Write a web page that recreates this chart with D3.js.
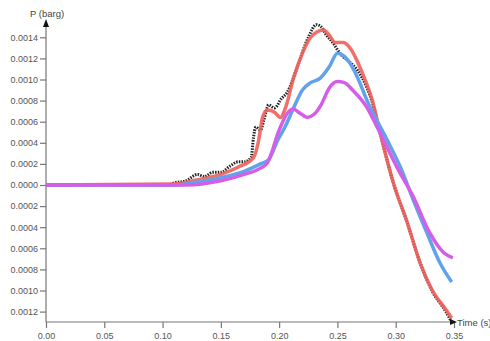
<!DOCTYPE html>
<html>
<head>
<meta charset="utf-8">
<script src="https://cdn.jsdelivr.net/npm/d3@7"></script>
<style>
  body { margin: 0; background: #fff; }
  .tick text { font-family: Arial, "Liberation Sans", sans-serif; font-size: 9px; fill: #555; }
  .lbl { font-family: Arial, "Liberation Sans", sans-serif; font-size: 9.5px; fill: #444; }
</style>
</head>
<body>
<div id="chart"></div>
<script>
// time (s) and pressure (barg)
var blackT = [0, 0.105, 0.110, 0.120, 0.130, 0.136, 0.143, 0.150, 0.158, 0.165, 0.170, 0.176, 0.178, 0.180, 0.184, 0.187, 0.191, 0.196, 0.202, 0.207, 0.215, 0.225, 0.232, 0.236, 0.240, 0.246, 0.252, 0.261, 0.267, 0.275, 0.280, 0.2865, 0.298, 0.310, 0.321, 0.331, 0.343, 0.348];
var blackP = [0, 0, 0.00002, 0.00004, 0.00010, 0.00008, 0.00012, 0.00012, 0.00018, 0.00022, 0.00022, 0.00026, 0.00045, 0.00055, 0.00052, 0.00062, 0.00076, 0.00073, 0.00082, 0.00088, 0.00110, 0.00140, 0.00152, 0.00150, 0.00143, 0.00135, 0.00125, 0.00116, 0.00109, 0.00093, 0.00078, 0.00050, 0.00002, -0.00036, -0.00074, -0.00100, -0.00120, -0.00130];

var redT = [0, 0.110, 0.130, 0.150, 0.165, 0.178, 0.182, 0.186, 0.190, 0.196, 0.201, 0.206, 0.212, 0.220, 0.227, 0.238, 0.243, 0.248, 0.255, 0.262, 0.268, 0.275, 0.280, 0.2865, 0.298, 0.310, 0.321, 0.331, 0.343, 0.348];
var redP = [0, 0.00001, 0.00005, 0.00010, 0.00017, 0.00026, 0.00040, 0.00065, 0.00071, 0.00069, 0.00064, 0.00075, 0.00100, 0.00125, 0.00140, 0.00147, 0.00142, 0.00135, 0.00135, 0.00128, 0.00115, 0.00096, 0.00080, 0.00050, 0.00002, -0.00036, -0.00074, -0.00099, -0.00118, -0.00126];

var blueT = [0, 0.110, 0.130, 0.150, 0.170, 0.184, 0.191, 0.199, 0.205, 0.212, 0.220, 0.227, 0.235, 0.243, 0.250, 0.256, 0.261, 0.268, 0.275, 0.2925, 0.304, 0.315, 0.327, 0.338, 0.348];
var blueP = [0, 0, 0.00003, 0.00007, 0.00013, 0.00020, 0.00024, 0.00043, 0.00055, 0.00072, 0.00090, 0.00097, 0.00101, 0.00112, 0.00125, 0.00122, 0.00115, 0.00100, 0.00081, 0.00043, 0.00017, -0.00014, -0.00046, -0.00074, -0.00092];

var pinkT = [0, 0.120, 0.150, 0.170, 0.184, 0.190, 0.200, 0.207, 0.212, 0.218, 0.224, 0.230, 0.236, 0.243, 0.250, 0.256, 0.263, 0.275, 0.284, 0.301, 0.315, 0.329, 0.341, 0.349];
var pinkP = [0, 0, 0.00004, 0.00010, 0.00016, 0.00021, 0.00052, 0.00068, 0.00072, 0.00068, 0.00064, 0.00067, 0.00076, 0.00092, 0.00098, 0.00097, 0.00090, 0.00074, 0.00055, 0.00017, -0.00011, -0.00045, -0.00064, -0.00069];

var xTicks = [0, 0.05, 0.10, 0.15, 0.20, 0.25, 0.30, 0.35];
var yTicks = [0.0014, 0.0012, 0.0010, 0.0008, 0.0006, 0.0004, 0.0002, 0, -0.0002, -0.0004, -0.0006, -0.0008, -0.0010, -0.0012];

var width = 490, height = 341;

var x = d3.scaleLinear().domain([0, 0.35]).range([46, 454]);
var y = d3.scaleLinear().domain([0, 0.0014]).range([185, 37.3]);

var svg = d3.select("#chart").append("svg")
  .attr("width", width)
  .attr("height", height);

// axes
var xAxis = svg.append("g")
  .attr("transform", "translate(0," + 322 + ")")
  .call(d3.axisBottom(x).tickValues(xTicks).tickSize(6).tickSizeOuter(0)
    .tickFormat(d3.format(".2f")));
xAxis.select(".domain").attr("d", "M46,0H454");

var yAxis = svg.append("g")
  .attr("transform", "translate(46,0)")
  .call(d3.axisLeft(y).tickValues(yTicks).tickSize(6).tickSizeOuter(0)
    .tickFormat(function(d) { return d3.format(".4f")(Math.abs(d)); }));
yAxis.select(".domain").attr("d", "M0,24V322");

svg.selectAll(".domain, .tick line").attr("stroke", "#777").attr("stroke-width", 1.2);
xAxis.selectAll(".tick text").attr("dy", "0.9em");
yAxis.selectAll(".tick text").attr("x", -8);

// arrow heads
svg.append("path").attr("d", "M46,19L43,27L49,27Z").attr("fill", "#111");
svg.append("path").attr("d", "M457,322L450,319L450,325Z").attr("fill", "#111");

svg.append("text").attr("class", "lbl").attr("x", 30).attr("y", 17).text("P (barg)");
svg.append("text").attr("class", "lbl").attr("x", 457).attr("y", 326).text("Time (s)");

var line = d3.line()
  .x(function(d) { return x(d[0]); })
  .y(function(d) { return y(d[1]); })
  .curve(d3.curveMonotoneX);

function zipData(t, p) {
  return t.map(function(d, i) { return [d, p[i]]; });
}

// black series: dense small markers
svg.append("path")
  .datum(zipData(blackT, blackP))
  .attr("fill", "none")
  .attr("stroke", "#222")
  .attr("stroke-width", 3)
  .attr("stroke-dasharray", "1.5,1.2")
  .attr("d", line);

svg.append("path")
  .datum(zipData(redT, redP))
  .attr("fill", "none")
  .attr("stroke", "#f0605c")
  .attr("stroke-opacity", 0.9)
  .attr("stroke-width", 3.5)
  .attr("d", line);

svg.append("path")
  .datum(zipData(blueT, blueP))
  .attr("fill", "none")
  .attr("stroke", "#62a2ea")
  .attr("stroke-width", 3.5)
  .attr("d", line);

svg.append("path")
  .datum(zipData(pinkT, pinkP))
  .attr("fill", "none")
  .attr("stroke", "#d45ee8")
  .attr("stroke-width", 3.5)
  .attr("d", line);
</script>
</body>
</html>
